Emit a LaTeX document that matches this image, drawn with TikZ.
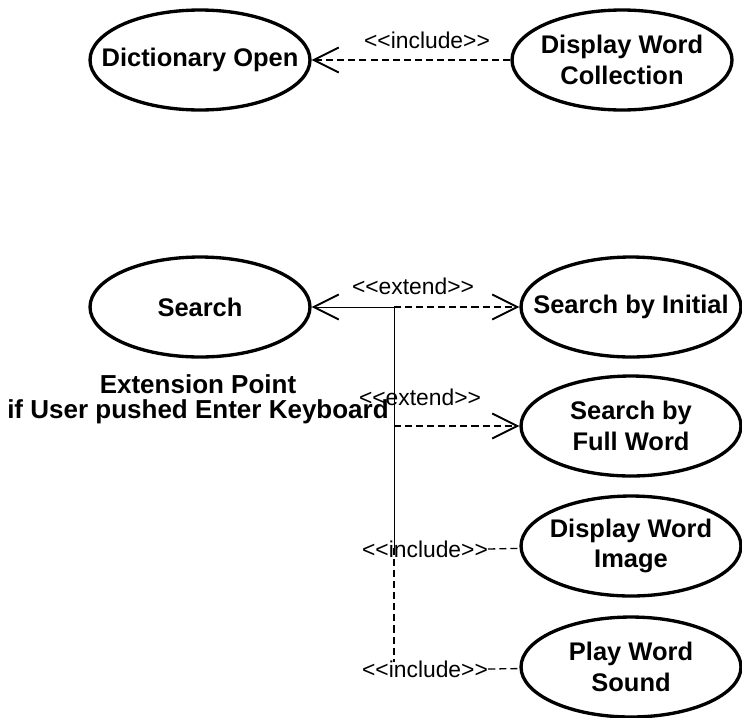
\documentclass[tikz,border=0pt]{standalone}
\usepackage{fontspec}
\setmainfont{Liberation Sans}
\usetikzlibrary{shapes.geometric,arrows.meta}
\newcommand{\stereo}[1]{<\kern0pt<#1>\kern0pt>}
\begin{document}
\begin{tikzpicture}[x=0.02cm,y=-0.02cm,
    usecase/.style={shape=ellipse,draw=black,line width=1.9pt,minimum width=4.4cm,minimum height=2cm,
        inner xsep=-2cm,inner ysep=0pt,align=center,font=\bfseries\fontsize{14.5}{17.5}\selectfont},
    dep/.style={line width=0.75pt,dash pattern=on 4pt off 2.3pt},
    open/.style={-{Straight Barb[length=0.5cm,width=0.5cm,line width=1.1pt]}},
    stereotype/.style={inner sep=0pt,font=\fontsize{13}{15}\selectfont}]
    \useasboundingbox (0,0) rectangle (742,717);

    % use cases
    \node[usecase] (dopen) at (200,60) {Dictionary Open};
    \node[usecase] (dwc) at (622,60) {Display Word\\Collection};
    \node[usecase] (search) at (200,307) {Search};
    \node[usecase] (sbi) at (631,307) {Search by Initial};
    \node[usecase] (sbfw) at (631,426) {Search by\\Full Word};
    \node[usecase] (dwi) at (631,546) {Display Word\\Image};
    \node[usecase] (pws) at (631,667) {Play Word\\Sound};
    \node[inner sep=0pt,align=center,font=\bfseries\fontsize{14.8}{14}\selectfont] (extpt) at (198,399)
        {Extension Point\\if User pushed Enter Keyboard};

    % bends
    \coordinate (j1) at (394,307);
    \coordinate (j2) at (394,426);
    \coordinate (j3) at (394,548);
    \coordinate (j4) at (394,662);

    % labels
    \node[stereotype] (inc0) at (427,40) {\stereo{include}};
    \node[stereotype] (ext1) at (413,286) {\stereo{extend}};
    \node[stereotype] (ext2) at (420,397) {\stereo{extend}};
    \node[stereotype] (inc1) at (425,549) {\stereo{include}};
    \node[stereotype] (inc2) at (425,669) {\stereo{include}};

    % edges
    \path [dep,open](dwc) edge (dopen);
    \path [open](j1) edge (search);
    \path [dep,open](j1) edge (sbi);
    \path [dep,open](j2) edge (sbfw);
    \draw (j1) -- (j3);
    \draw [dep](j3) -- (j4);
    \draw [dep](inc1.east) -- (dwi);
    \draw [dep](inc2.east) -- (pws);
\end{tikzpicture}
\end{document}
